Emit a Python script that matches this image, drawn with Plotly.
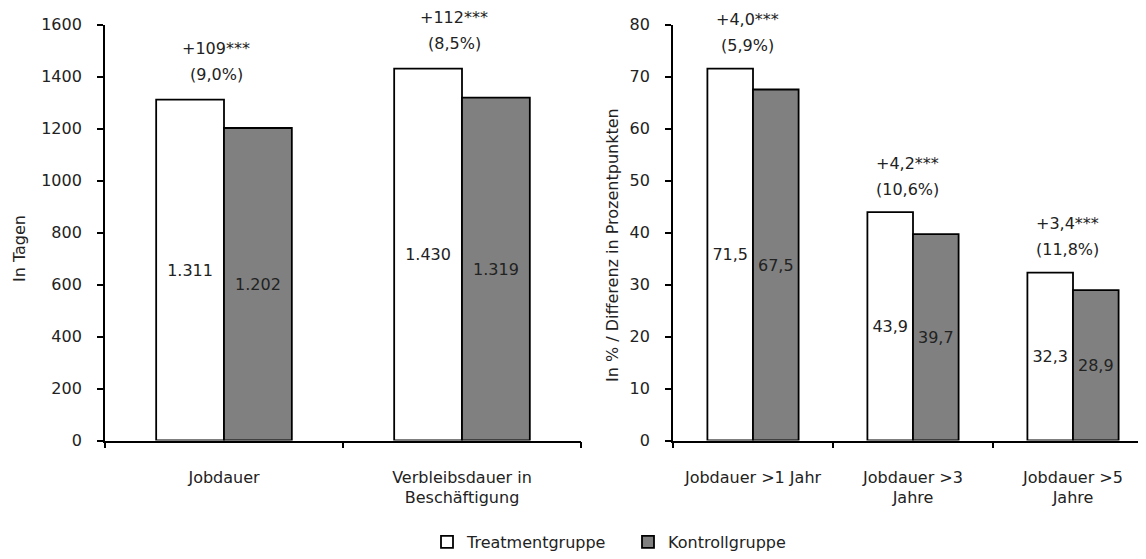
import plotly.graph_objects as go

# ---- data ----
cats_left = ["Jobdauer", "Verbleibsdauer in<br>Beschäftigung"]
treat_left = [1311, 1430]
ctrl_left = [1202, 1319]
treat_left_text = ["1.311", "1.430"]
ctrl_left_text = ["1.202", "1.319"]
diff_left = ["+109***", "+112***"]
pct_left = ["(9,0%)", "(8,5%)"]

cats_right = ["Jobdauer >1 Jahr", "Jobdauer >3<br>Jahre", "Jobdauer >5<br>Jahre"]
treat_right = [71.5, 43.9, 32.3]
ctrl_right = [67.5, 39.7, 28.9]
diff_right = ["+4,0***", "+4,2***", "+3,4***"]
pct_right = ["(5,9%)", "(10,6%)", "(11,8%)"]

ticks_left = [0, 200, 400, 600, 800, 1000, 1200, 1400, 1600]
ticks_right = [0, 10, 20, 30, 40, 50, 60, 70, 80]

def de(v):
    return f"{v:.1f}".replace(".", ",")

FONT = "DejaVu Sans"
FS = 16
TXT = "#222222"
OFF = 8                      # page body margin
W, H = 1146 - 2 * OFF, 559 - 2 * OFF
GRAY = "#808080"

def px(x):
    return (x - OFF) / W

def py(y):
    return 1 - (y - OFF) / H

fig = go.Figure()

common = dict(textposition="inside", insidetextanchor="middle", textangle=0,
              constraintext="none", textfont=dict(family=FONT, size=FS, color=TXT))

fig.add_trace(go.Bar(x=cats_left, y=treat_left, text=treat_left_text, name="Treatmentgruppe",
                     marker=dict(color="white", line=dict(color="black", width=1.8)),
                     xaxis="x", yaxis="y", legendgroup="t", **common))
fig.add_trace(go.Bar(x=cats_left, y=ctrl_left, text=ctrl_left_text, name="Kontrollgruppe",
                     marker=dict(color=GRAY, line=dict(color="black", width=1.8)),
                     xaxis="x", yaxis="y", legendgroup="k", **common))
fig.add_trace(go.Bar(x=cats_right, y=treat_right, text=[de(v) for v in treat_right],
                     name="Treatmentgruppe", showlegend=False,
                     marker=dict(color="white", line=dict(color="black", width=1.8)),
                     xaxis="x2", yaxis="y2", legendgroup="t", **common))
fig.add_trace(go.Bar(x=cats_right, y=ctrl_right, text=[de(v) for v in ctrl_right],
                     name="Kontrollgruppe", showlegend=False,
                     marker=dict(color=GRAY, line=dict(color="black", width=1.8)),
                     xaxis="x2", yaxis="y2", legendgroup="k", **common))

ydom = [py(440.5), py(24.5)]

xax = dict(type="category", showgrid=False, zeroline=False, showline=True, linecolor="black",
           linewidth=1.8, ticks="outside", ticklen=6, tickcolor="black", tickwidth=1.5,
           tickson="boundaries", ticklabelstandoff=21, automargin=False,
           tickfont=dict(family=FONT, size=FS, color=TXT))
yax = dict(showgrid=False, zeroline=False, showline=True, linecolor="black", linewidth=1.8,
           ticks="outside", ticklen=6, tickcolor="black", tickwidth=1.5, ticklabelstandoff=12,
           automargin=False, tickfont=dict(family=FONT, size=FS, color=TXT))

annotations = []
for i in range(len(cats_left)):
    annotations.append(dict(x=cats_left[i], y=treat_left[i], xref="x", yref="y", text=diff_left[i],
                            showarrow=False, yshift=51, xshift=-8, yanchor="middle"))
    annotations.append(dict(x=cats_left[i], y=treat_left[i], xref="x", yref="y", text=pct_left[i],
                            showarrow=False, yshift=25, xshift=-8, yanchor="middle"))
for i in range(len(cats_right)):
    annotations.append(dict(x=cats_right[i], y=treat_right[i], xref="x2", yref="y2", text=diff_right[i],
                            showarrow=False, yshift=49, xshift=-6, yanchor="middle"))
    annotations.append(dict(x=cats_right[i], y=treat_right[i], xref="x2", yref="y2", text=pct_right[i],
                            showarrow=False, yshift=23, xshift=-6, yanchor="middle"))
annotations.append(dict(x=px(19), y=py(249), xref="paper", yref="paper", text="In Tagen",
                        textangle=-90, showarrow=False, xanchor="center", yanchor="middle"))
annotations.append(dict(x=px(612), y=py(245), xref="paper", yref="paper",
                        text="In % / Differenz in Prozentpunkten",
                        textangle=-90, showarrow=False, xanchor="center", yanchor="middle"))

right_px = 1146 - OFF - 673          # visible width of right panel in px
fig.update_layout(
    template="none",
    width=W, height=H, autosize=False,
    margin=dict(l=0, r=0, t=0, b=0, pad=0, autoexpand=False),
    paper_bgcolor="white", plot_bgcolor="white",
    font=dict(family=FONT, size=FS, color=TXT),
    barmode="group", bargap=0.43, bargroupgap=0,
    xaxis=dict(domain=[px(105), px(581)], range=[-0.5, 1.5], anchor="y", **xax),
    yaxis=dict(domain=ydom, range=[0, 1600], tickvals=ticks_left, anchor="x", **yax),
    xaxis2=dict(domain=[px(673), 1.0], range=[-0.5, -0.5 + right_px / 160], anchor="y2", **xax),
    yaxis2=dict(domain=ydom, range=[0, 80], tickvals=ticks_right, anchor="x2", **yax),
    annotations=annotations,
    showlegend=True,
    legend=dict(orientation="h", x=px(427), xanchor="left", y=py(542), yanchor="middle",
                font=dict(family=FONT, size=FS, color=TXT), entrywidth=156,
                itemwidth=30, tracegroupgap=0, bgcolor="rgba(0,0,0,0)"),
)

fig.write_html("out.html")
